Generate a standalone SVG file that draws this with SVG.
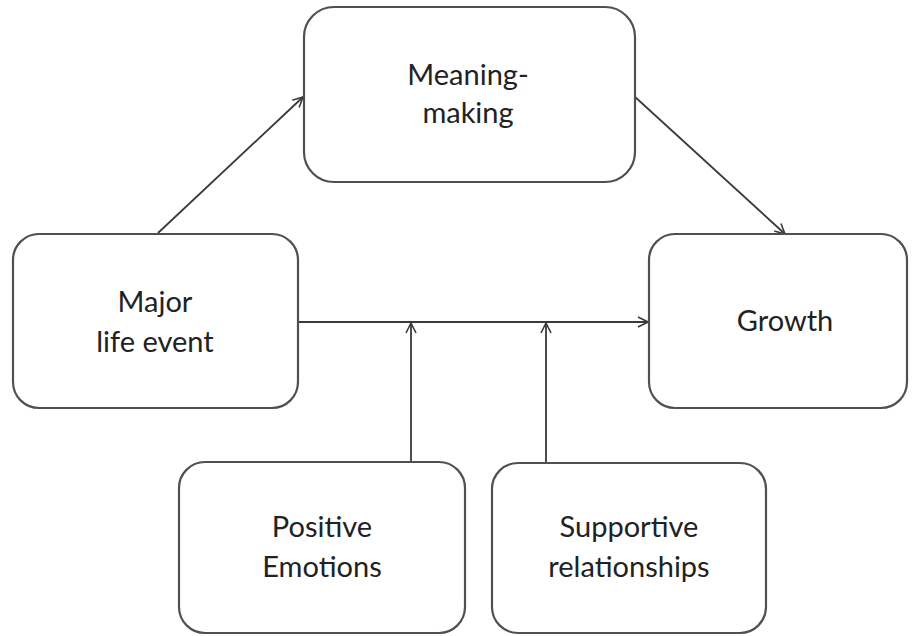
<svg xmlns="http://www.w3.org/2000/svg" width="912" height="636" viewBox="0 0 912 636">
<style>
.box{fill:#fff;stroke:#505050;stroke-width:2.2}
.t{font-family:Lato,"Open Sans","Liberation Sans",sans-serif;font-size:29px;fill:#222;text-anchor:middle}
.c{stroke:#3a3a3a;stroke-width:1.8;fill:none}
</style>
<defs>
<marker id="a" viewBox="0 0 12 12" refX="11" refY="6" markerWidth="12" markerHeight="12" markerUnits="userSpaceOnUse" orient="auto">
<path d="M1,1 L11,6 L1,11" fill="none" stroke="#3a3a3a" stroke-width="1.6"/>
</marker>
</defs>
<rect width="912" height="636" fill="#fff"/>
<g id="connectors">
<line class="c" x1="158" y1="233" x2="303" y2="97" marker-end="url(#a)"/>
<line class="c" x1="634" y1="96" x2="785" y2="234" marker-end="url(#a)"/>
<line class="c" x1="298" y1="322" x2="648" y2="322" marker-end="url(#a)"/>
<line class="c" x1="411" y1="462" x2="411" y2="323" marker-end="url(#a)"/>
<line class="c" x1="546" y1="463" x2="546" y2="323" marker-end="url(#a)"/>
</g>
<g id="meaning">
<rect class="box" x="304" y="7" width="331" height="175" rx="30"/>
<text class="t" x="468" y="85">Meaning-</text>
<text class="t" x="468" y="123">making</text>
</g>
<g id="major">
<rect class="box" x="13" y="234" width="285" height="174" rx="26"/>
<text class="t" x="155" y="312">Major</text>
<text class="t" x="155" y="352">life event</text>
</g>
<g id="growth">
<rect class="box" x="649" y="234" width="258" height="174" rx="26"/>
<text class="t" x="785" y="331">Growth</text>
</g>
<g id="positive">
<rect class="box" x="179" y="462" width="286" height="171" rx="26"/>
<text class="t" x="322" y="537">Positive</text>
<text class="t" x="322" y="577">Emotions</text>
</g>
<g id="supportive">
<rect class="box" x="492" y="463" width="274" height="170" rx="26"/>
<text class="t" x="629" y="537">Supportive</text>
<text class="t" x="629" y="577">relationships</text>
</g>
</svg>
